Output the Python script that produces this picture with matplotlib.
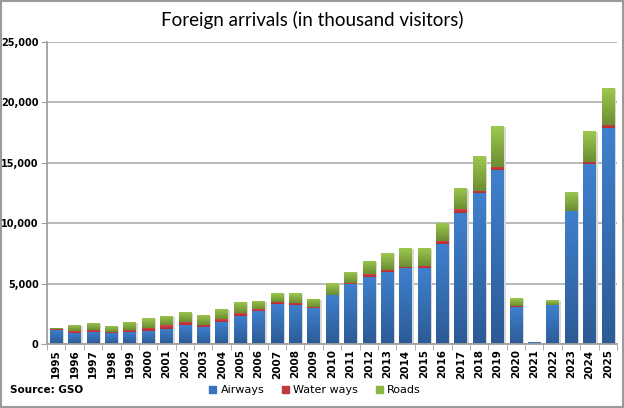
import numpy as np
import matplotlib.pyplot as plt
from matplotlib.colors import LinearSegmentedColormap
from matplotlib.patches import Patch, Rectangle
from matplotlib.ticker import FuncFormatter, MultipleLocator

years = [str(y) for y in range(1995, 2026)]
airways = [1180, 940, 1020, 880, 1000, 1100, 1270, 1550, 1380, 1820,
           2330, 2730, 3310, 3230, 3000, 4030, 5000, 5550, 5970, 6270,
           6250, 8280, 10880, 12500, 14390, 3030, 140, 3190, 10970, 14860,
           17860]
waterways = [40, 140, 100, 100, 150, 250, 280, 250, 190, 220,
             200, 150, 200, 200, 60, 50, 50, 230, 180, 100,
             200, 280, 280, 200, 250, 140, 5, 20, 60, 220,
             280]
roads = [130, 530, 600, 510, 670, 800, 770, 850, 830, 860,
         940, 700, 710, 790, 690, 970, 920, 1080, 1380, 1570,
         1490, 1440, 1780, 2830, 3390, 610, 15, 400, 1580, 2530,
         3050]

fig = plt.figure(figsize=(6.24, 4.08), dpi=100)
ax = fig.add_axes([0.0753, 0.157, 0.9135, 0.740])

x = np.arange(len(years))
width = 0.68
air = np.array(airways)
wat = np.array(waterways)
rd = np.array(roads)
total = air + wat + rd

# light shadow behind each stack
ax.bar(x + 0.1, total, width, bottom=-90, color="#d8d8d8", zorder=1)

layers = [
    (air, np.zeros(len(x)), ("#2c5b95", "#3f80cd")),
    (wat, air, ("#b52a2e", "#d2474a")),
    (rd, air + wat, ("#6c8d32", "#9dc84e")),
]
grad = np.linspace(0, 1, 64).reshape(-1, 1)
for vals, base, (c_low, c_high) in layers:
    cmap = LinearSegmentedColormap.from_list("g", [c_low, c_high])
    bars = ax.bar(x, vals, width, bottom=base, facecolor="none",
                  edgecolor="none", zorder=2)
    for b in bars:
        x0, y0 = b.get_x(), b.get_y()
        w, h = b.get_width(), b.get_height()
        if h <= 0:
            continue
        im = ax.imshow(grad, cmap=cmap, origin="lower", aspect="auto",
                       extent=(x0, x0 + w, y0, y0 + h), zorder=2)
        im.set_clip_path(b)

ax.set_xlim(-0.5, len(years) - 0.5)
ax.set_ylim(0, 25000)
ax.yaxis.set_major_locator(MultipleLocator(5000))
ax.yaxis.set_major_formatter(FuncFormatter(lambda v, p: f"{int(v):,}"))
ax.grid(axis="y", color="#b3b3b3", linewidth=1.3, zorder=0)
ax.set_axisbelow(True)

ax.set_xticks(x)
ax.set_xticklabels(years, rotation=90, fontsize=7.5, fontweight="bold")
ax.set_xticks(np.arange(-0.5, len(years)), minor=True)
ax.tick_params(axis="x", which="major", length=0, pad=4)
ax.tick_params(axis="x", which="minor", length=4, color="#a0a0a0")
ax.tick_params(axis="y", length=4, color="#a0a0a0", labelsize=7, pad=2)
for lab in ax.get_yticklabels():
    lab.set_fontweight("bold")

for s in ["top", "right"]:
    ax.spines[s].set_visible(False)
for s in ["left", "bottom"]:
    ax.spines[s].set_color("#a0a0a0")
    ax.spines[s].set_linewidth(1.3)

fig.text(0.5, 0.95, "Foreign arrivals (in thousand visitors)",
         ha="center", va="center", fontsize=13.5, family="Lato")
fig.text(0.016, 0.044, "Source: GSO", ha="left", va="center",
         fontsize=7.5, fontweight="bold")

handles = [Patch(color="#3a74bd", label="Airways"),
           Patch(color="#c0393b", label="Water ways"),
           Patch(color="#8db544", label="Roads")]
fig.legend(handles=handles, loc="center", bbox_to_anchor=(0.505, 0.044),
           ncol=3, frameon=False, fontsize=8, handlelength=0.6,
           handleheight=0.6, handletextpad=0.4, columnspacing=1.6)

fig.patches.append(Rectangle((0.002, 0.003), 0.996, 0.994,
                             transform=fig.transFigure, fill=False,
                             edgecolor="#9a9a9a", linewidth=1.5))

fig.savefig("out.png", dpi=100)
